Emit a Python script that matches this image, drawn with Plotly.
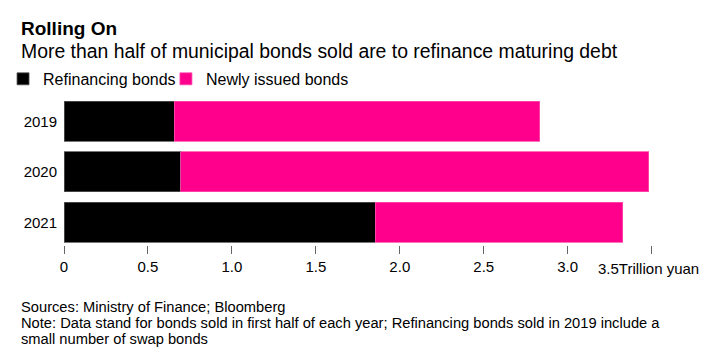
import plotly.graph_objects as go

years = ["2019", "2020", "2021"]
refinancing = [0.657, 0.694, 1.855]
newly_issued = [2.178, 2.788, 1.474]
tick_vals = [0, 0.5, 1.0, 1.5, 2.0, 2.5, 3.0, 3.5]
tick_text = ["0", "0.5", "1.0", "1.5", "2.0", "2.5", "3.0", ""]

FONT = "Liberation Sans, Arial, sans-serif"
W, H = 720, 357
L, T = 64, 96.1
PLOT_H = 149.0
PLOT_W = 638.4

def px_x(px):
    return (px - L) / PLOT_W

def px_y(py):
    return (T + PLOT_H - py) / PLOT_H

fig = go.Figure()
fig.add_trace(go.Bar(
    y=years, x=refinancing, orientation="h", name="Refinancing bonds", legend="legend",
    marker=dict(color="#000000", line=dict(color="#555555", width=0.8)),
))
fig.add_trace(go.Bar(
    y=years, x=newly_issued, orientation="h", name="Newly issued bonds", legend="legend2",
    marker=dict(color="#FF008C", line=dict(color="#FF4FAE", width=0.8)),
))

ann = []
ann.append(dict(text="<b>Rolling On</b>", x=px_x(19), y=px_y(28.9), xref="paper", yref="paper",
                xanchor="left", yanchor="middle", showarrow=False,
                font=dict(family=FONT, size=19, color="#000")))
ann.append(dict(text="More than half of municipal bonds sold are to refinance maturing debt",
                x=px_x(19), y=px_y(51.3), xref="paper", yref="paper",
                xanchor="left", yanchor="middle", showarrow=False,
                font=dict(family=FONT, size=19.4, color="#000")))
ann.append(dict(text="3.5Trillion yuan", x=px_x(596.5), y=px_y(268.3), xref="paper", yref="paper",
                xanchor="left", yanchor="middle", showarrow=False,
                font=dict(family=FONT, size=15, color="#000")))
footer = [
    ("Sources: Ministry of Finance; Bloomberg", 306.7),
    ("Note: Data stand for bonds sold in first half of each year; Refinancing bonds sold in 2019 include a", 323.0),
    ("small number of swap bonds", 338.7),
]
for txt, yy in footer:
    ann.append(dict(text=txt, x=px_x(18.5), y=px_y(yy), xref="paper", yref="paper",
                    xanchor="left", yanchor="middle", showarrow=False,
                    font=dict(family=FONT, size=14.7, color="#000")))

legend_common = dict(orientation="h", yanchor="middle", y=px_y(79),
                     font=dict(family=FONT, size=16, color="#000"),
                     bgcolor="rgba(0,0,0,0)", borderwidth=0, itemclick=False,
                     itemdoubleclick=False, xanchor="left")

fig.update_layout(
    width=W, height=H,
    margin=dict(l=L, r=W - L - PLOT_W, t=T, b=H - T - PLOT_H, pad=0, autoexpand=False),
    paper_bgcolor="white", plot_bgcolor="white",
    barmode="stack", bargap=0.2,
    showlegend=True,
    legend=dict(x=px_x(3), **legend_common),
    legend2=dict(x=px_x(166), **legend_common),
    xaxis=dict(range=[0, PLOT_W / 168.0], tickvals=tick_vals, ticktext=tick_text,
               showgrid=False, zeroline=False, showline=False, automargin=False,
               ticks="outside", ticklen=8, tickcolor="#666666", tickwidth=1,
               tickfont=dict(family=FONT, size=15, color="#000")),
    yaxis=dict(range=[2.45, -0.5], showgrid=False, zeroline=False, showline=False,
               ticks="", ticklabelstandoff=6, automargin=False,
               tickfont=dict(family=FONT, size=15, color="#000")),
    annotations=ann,
    font=dict(family=FONT),
)

fig.write_html("out.html", config={"displayModeBar": False},
               post_script="document.body.style.margin='0';")
